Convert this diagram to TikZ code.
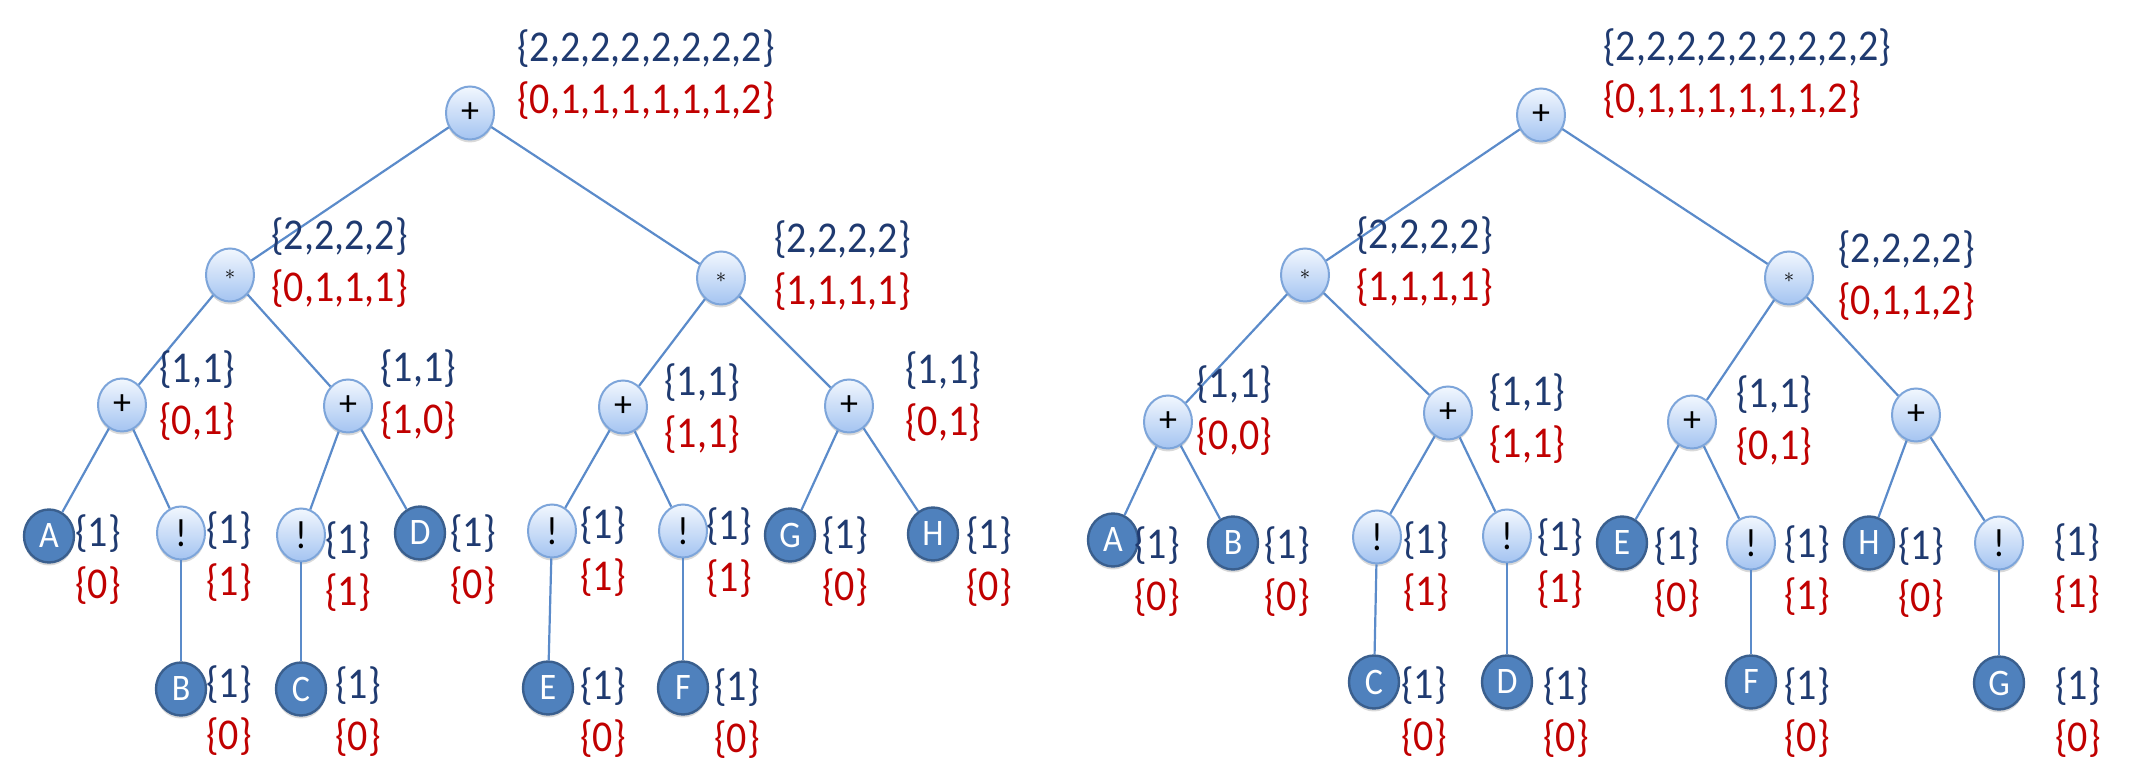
\documentclass[tikz,border=0pt]{standalone}
\usepackage{fontspec}
\usepackage{graphicx}
\setmainfont{Carlito}
\usetikzlibrary{shapes.geometric,shadows}

\definecolor{edgeblue}{HTML}{5B8BCA}
\definecolor{leafblue}{HTML}{4F81BD}
\definecolor{leafrim}{HTML}{3A5F8E}
\definecolor{optop}{HTML}{F2F7FE}
\definecolor{opbottom}{HTML}{A4C4F1}
\definecolor{oprim}{HTML}{7DA5DA}
\definecolor{navy}{HTML}{1F3A70}
\definecolor{crimson}{HTML}{C00000}

% upper set / lower set printed next to a node
\newcommand{\tall}[1]{\scalebox{1}[1.1]{#1}}
\newcommand{\cnt}[2]{\textcolor{navy}{\tall{\{#1\}}}\\\textcolor{crimson}{\tall{\{#2\}}}}
\newcommand{\mul}{\scalebox{0.6}{$\ast$}}

\begin{document}
\begin{tikzpicture}[x=0.5pt,y=-0.5pt,
  op/.style={ellipse, draw=oprim, line width=1pt, top color=optop, bottom color=opbottom,
    minimum width=24pt, minimum height=26.5pt, inner sep=0pt, font=\fontsize{18}{18}\selectfont,
    drop shadow={shadow xshift=0pt, shadow yshift=-1.5pt, opacity=0.3}},
  leaf/.style={ellipse, draw=leafrim, line width=1.2pt, fill=leafblue, text=white,
    minimum width=25pt, minimum height=26.5pt, inner sep=0pt, font=\fontsize{17}{17}\selectfont,
    drop shadow={shadow xshift=0pt, shadow yshift=-1.5pt, opacity=0.3}},
  cnt/.style={anchor=west, align=left, inner sep=0pt, font=\fontsize{20}{26}\selectfont},
  tree/.style={draw=edgeblue, line width=1.1pt}]
\useasboundingbox (0,0) rectangle (2133,763);

%% first tree
\node[op] (ra) at (470,113) {+};
\node[op] (ma1) at (230,275) {\mul};
\node[op] (ma2) at (721,278) {\mul};
\node[op] (pa1) at (122,405) {+};
\node[op] (pa2) at (348,406) {+};
\node[op] (pa3) at (623,407) {+};
\node[op] (pa4) at (849,406) {+};
\node[leaf] (Aa) at (49,536) {\tall{A}};
\node[op] (na1) at (181,533) {\tall{!}};
\node[op] (na2) at (301,535) {\tall{!}};
\node[leaf] (Da) at (420,533) {\tall{D}};
\node[op] (na3) at (552,531) {\tall{!}};
\node[op] (na4) at (683,531) {\tall{!}};
\node[leaf] (Ga) at (790,535) {\tall{G}};
\node[leaf] (Ha) at (933,534) {\tall{H}};
\node[leaf] (Ba) at (181,689) {\tall{B}};
\node[leaf] (Ca) at (301,689) {\tall{C}};
\node[leaf] (Ea) at (548,688) {\tall{E}};
\node[leaf] (Fa) at (683,688) {\tall{F}};

\path[tree] (ra) edge (ma1) (ra) edge (ma2)
  (ma1) edge (pa1) (ma1) edge (pa2) (ma2) edge (pa3) (ma2) edge (pa4)
  (pa1) edge (Aa) (pa1) edge (na1) (pa2) edge (na2) (pa2) edge (Da)
  (pa3) edge (na3) (pa3) edge (na4) (pa4) edge (Ga) (pa4) edge (Ha)
  (na1) edge (Ba) (na2) edge (Ca) (na3) edge (Ea) (na4) edge (Fa);

\node[cnt] (lra) at (517,75) {\cnt{2,2,2,2,2,2,2,2}{0,1,1,1,1,1,1,2}};
\node[cnt] (lma1) at (271,263) {\cnt{2,2,2,2}{0,1,1,1}};
\node[cnt] (lma2) at (774,266) {\cnt{2,2,2,2}{1,1,1,1}};
\node[cnt] (lpa1) at (159,396) {\cnt{1,1}{0,1}};
\node[cnt] (lpa2) at (380,395) {\cnt{1,1}{1,0}};
\node[cnt] (lpa3) at (664,409) {\cnt{1,1}{1,1}};
\node[cnt] (lpa4) at (905,397) {\cnt{1,1}{0,1}};
\node[cnt] (lAa) at (75,560) {\cnt{1}{0}};
\node[cnt] (lna1) at (206,557) {\cnt{1}{1}};
\node[cnt] (lna2) at (325,567) {\cnt{1}{1}};
\node[cnt] (lDa) at (450,560) {\cnt{1}{0}};
\node[cnt] (lna3) at (580,552) {\cnt{1}{1}};
\node[cnt] (lna4) at (706,553) {\cnt{1}{1}};
\node[cnt] (lGa) at (822,562) {\cnt{1}{0}};
\node[cnt] (lHa) at (966,562) {\cnt{1}{0}};
\node[cnt] (lBa) at (206,711) {\cnt{1}{0}};
\node[cnt] (lCa) at (335,712) {\cnt{1}{0}};
\node[cnt] (lEa) at (580,713) {\cnt{1}{0}};
\node[cnt] (lFa) at (714,714) {\cnt{1}{0}};

%% second tree
\node[op] (rb) at (1541,115) {+};
\node[op] (mb1) at (1305,275) {\mul};
\node[op] (mb2) at (1789,278) {\mul};
\node[op] (pb1) at (1168,422) {+};
\node[op] (pb2) at (1448,413) {+};
\node[op] (pb3) at (1692,422) {+};
\node[op] (pb4) at (1916,415) {+};
\node[leaf] (Ab) at (1113,540) {\tall{A}};
\node[leaf] (Bb) at (1233,543) {\tall{B}};
\node[op] (nb1) at (1377,537) {\tall{!}};
\node[op] (nb2) at (1507,536) {\tall{!}};
\node[leaf] (Eb) at (1622,543) {\tall{E}};
\node[op] (nb3) at (1751,543) {\tall{!}};
\node[leaf] (Hb) at (1869,543) {\tall{H}};
\node[op] (nb4) at (1999,543) {\tall{!}};
\node[leaf] (Cb) at (1374,682) {\tall{C}};
\node[leaf] (Db) at (1507,682) {\tall{D}};
\node[leaf] (Fb) at (1751,682) {\tall{F}};
\node[leaf] (Gb) at (1999,683) {\tall{G}};

\path[tree] (rb) edge (mb1) (rb) edge (mb2)
  (mb1) edge (pb1) (mb1) edge (pb2) (mb2) edge (pb3) (mb2) edge (pb4)
  (pb1) edge (Ab) (pb1) edge (Bb) (pb2) edge (nb1) (pb2) edge (nb2)
  (pb3) edge (Eb) (pb3) edge (nb3) (pb4) edge (Hb) (pb4) edge (nb4)
  (nb1) edge (Cb) (nb2) edge (Db) (nb3) edge (Fb) (nb4) edge (Gb);

\node[cnt] (lrb) at (1603,74) {\cnt{2,2,2,2,2,2,2,2,2}{0,1,1,1,1,1,1,2}};
\node[cnt] (lmb1) at (1356,262) {\cnt{2,2,2,2}{1,1,1,1}};
\node[cnt] (lmb2) at (1838,276) {\cnt{2,2,2,2}{0,1,1,2}};
\node[cnt] (lpb1) at (1196,411) {\cnt{1,1}{0,0}};
\node[cnt] (lpb2) at (1489,419) {\cnt{1,1}{1,1}};
\node[cnt] (lpb3) at (1736,421) {\cnt{1,1}{0,1}};
\node[cnt] (lAb) at (1134,572) {\cnt{1}{0}};
\node[cnt] (lBb) at (1264,572) {\cnt{1}{0}};
\node[cnt] (lnb1) at (1403,567) {\cnt{1}{1}};
\node[cnt] (lnb2) at (1537,564) {\cnt{1}{1}};
\node[cnt] (lEb) at (1654,573) {\cnt{1}{0}};
\node[cnt] (lnb3) at (1784,571) {\cnt{1}{1}};
\node[cnt] (lHb) at (1898,573) {\cnt{1}{0}};
\node[cnt] (lnb4) at (2054,569) {\cnt{1}{1}};
\node[cnt] (lCb) at (1401,712) {\cnt{1}{0}};
\node[cnt] (lDb) at (1543,713) {\cnt{1}{0}};
\node[cnt] (lFb) at (1784,713) {\cnt{1}{0}};
\node[cnt] (lGb) at (2055,713) {\cnt{1}{0}};
\end{tikzpicture}
\end{document}
